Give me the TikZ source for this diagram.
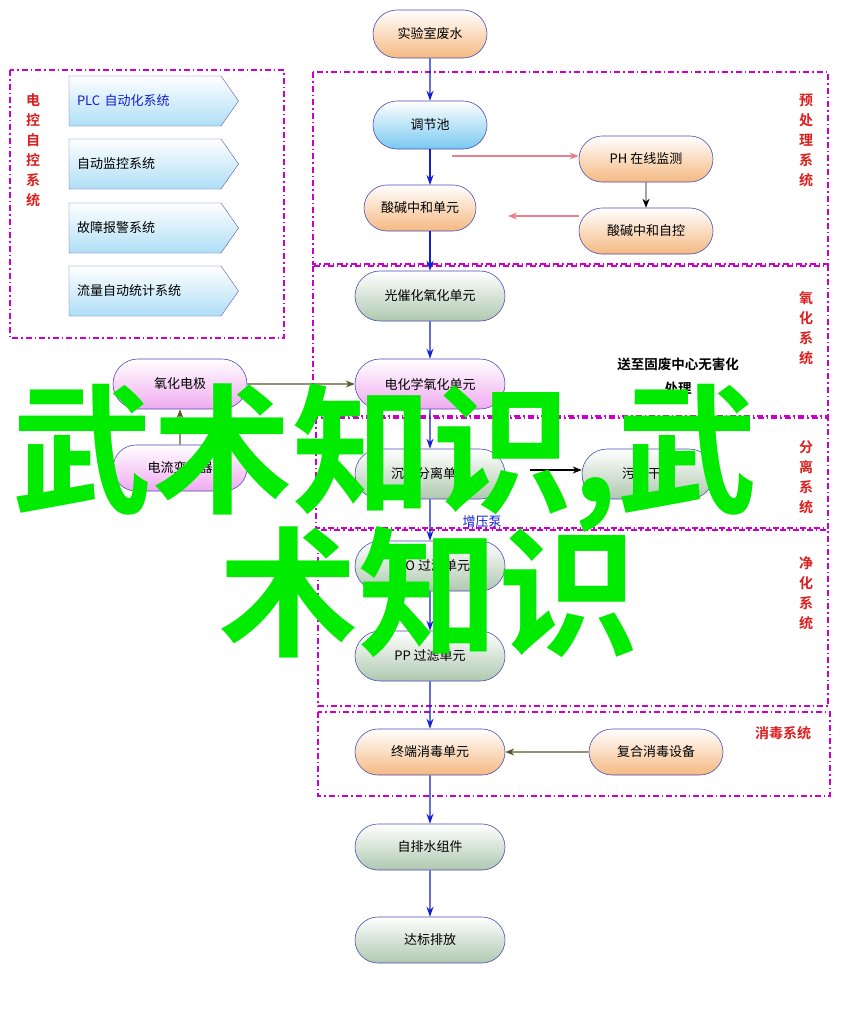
\documentclass[tikz,border=0pt]{standalone}
\usepackage{fontspec}
\setmainfont{Noto Sans CJK SC}
\newfontfamily\cjkb{Noto Sans CJK SC Bold}
\usetikzlibrary{arrows.meta,shapes.symbols,shapes.misc}
\definecolor{magd}{RGB}{204,0,204}
\definecolor{redl}{RGB}{220,30,30}
\definecolor{olv}{RGB}{90,90,40}
\definecolor{bluea}{RGB}{20,30,210}
\definecolor{org}{RGB}{245,185,130}
\definecolor{cyanf}{RGB}{120,200,240}
\definecolor{pinkf}{RGB}{240,170,240}
\definecolor{grnf}{RGB}{175,200,175}
\definecolor{pinka}{RGB}{230,130,140}
\definecolor{wm}{RGB}{0,235,0}
\tikzset{
 x=1pt,y=-1pt,
 pill/.style={rounded rectangle,draw=blue!40!gray,line width=0.6pt,font=\fontsize{13}{15}\selectfont,minimum height=48pt,inner xsep=4pt},
 po/.style={pill,top color=white,bottom color=org},
 pc/.style={pill,top color=white,bottom color=cyanf},
 pp/.style={pill,top color=white,bottom color=pinkf},
 pg/.style={pill,top color=white,bottom color=grnf},
 zone/.style={draw=magd,line width=1.2pt,dash pattern=on 6pt off 3pt on 1.5pt off 3pt},
 sysl/.style={text=redl,font=\cjkb\fontsize{14}{20}\selectfont,align=center,text width=16pt},
 flow/.style={-{Stealth[length=10pt,width=7pt]},bluea,line width=1.3pt},
 side/.style={-{Stealth[length=9pt,width=7pt]},line width=1.1pt},
 chev/.style={signal,signal to=east,signal pointer angle=110,draw=blue!30!gray,top color=white,bottom color=cyanf!60,font=\fontsize{13}{15}\selectfont,minimum height=50pt,text width=136pt,inner xsep=8pt,align=left}
}
\begin{document}
\begin{tikzpicture}
\useasboundingbox (0,0) rectangle (841,1017);
\fill[white] (0,0) rectangle (841,1017);
% zones
\draw[zone] (10,70) rectangle (284,338);
\draw[zone] (313,72) rectangle (828,264);
\draw[zone] (313,266) rectangle (828,416);
\draw[zone] (316,418) rectangle (828,528);
\draw[zone] (318,530) rectangle (828,706);
\draw[zone] (318,712) rectangle (830,796);
\node[sysl] (lbl1) at (806,140) {预\\处\\理\\系\\统};
\node[sysl] (lbl2) at (806,328) {氧\\化\\系\\统};
\node[sysl] (lbl3) at (806,477) {分\\离\\系\\统};
\node[sysl] (lbl4) at (806,593) {净\\化\\系\\统};
\node[text=redl,font=\cjkb\fontsize{14}{16}\selectfont] (lbl5) at (783,733) {消毒系统};
\node[sysl] (lbl0) at (33,150) {电\\控\\自\\控\\系\\统};
% chevrons
\node[chev,text=bluea] (c1) at (145,101) {PLC 自动化系统};
\node[chev] (c2) at (145,164) {自动监控系统};
\node[chev] (c3) at (145,228) {故障报警系统};
\node[chev] (c4) at (145,291) {流量自动统计系统};
% main nodes
\node[po,minimum width=122pt] (n1) at (430,34) {实验室废水};
\node[pc,minimum width=122pt] (n2) at (430,125) {调节池};
\node[po,minimum width=120pt,minimum height=46pt] (n3) at (420,208) {酸碱中和单元};
\node[po,minimum width=142pt,minimum height=46pt] (ph) at (646,159) {PH 在线监测};
\node[po,minimum width=142pt,minimum height=46pt] (ac) at (646,231) {酸碱中和自控};
\node[pg,minimum width=158pt,minimum height=50pt] (n4) at (430,296) {光催化氧化单元};
\node[pp,minimum width=158pt,minimum height=50pt] (n5) at (430,384) {电化学氧化单元};
\node[pp,minimum width=142pt,minimum height=50pt] (el) at (180,384) {氧化电极};
\node[pp,minimum width=142pt,minimum height=46pt] (tr) at (180,468) {电流变压器};
\node[pg,minimum width=158pt,minimum height=50pt] (n6) at (430,474) {沉淀分离单元};
\node[pg,minimum width=140pt,minimum height=50pt] (sl) at (648,474) {污泥干化};
\node[pg,minimum width=158pt,minimum height=50pt] (n7) at (430,566) {CTO 过滤单元};
\node[pg,minimum width=158pt,minimum height=50pt] (n8) at (430,656) {PP 过滤单元};
\node[po,minimum width=158pt,minimum height=46pt] (n9) at (430,752) {终端消毒单元};
\node[po,minimum width=142pt,minimum height=46pt] (ds) at (656,752) {复合消毒设备};
\node[pg,minimum width=158pt,minimum height=46pt] (n10) at (430,847) {自排水组件};
\node[pg,minimum width=158pt,minimum height=46pt] (n11) at (430,940) {达标排放};
\node[font=\cjkb\fontsize{13.5}{24}\selectfont,align=center] (waste) at (678,376) {送至固废中心无害化\\处理};
\node[text=bluea,font=\fontsize{13}{15}\selectfont] (pump) at (482,522) {增压泵};
% flow arrows
\coordinate (a1) at (430,185);
\coordinate (a2) at (430,231);
\draw[flow] (n1) -- (n2);
\draw[flow] (n2) -- (a1);
\draw[flow] (a2) -- (n4);
\draw[flow] (n4) -- (n5);
\draw[flow] (n5) -- (n6);
\draw[flow] (n6) -- (n7);
\draw[flow] (n7) -- (n8);
\draw[flow] (n8) -- (n9);
\draw[flow] (n9) -- (n10);
\draw[flow] (n10) -- (n11);
\coordinate (phs) at (452,156);
\draw[side,pinka] (phs) -- (ph.west|-phs);
\draw[side,black,line width=0.8pt] (ph) -- (ac);
\coordinate (acs) at (508,216);
\draw[side,pinka] (ac.west|-acs) -- (acs);
\draw[side,olv] (el) -- (n5);
\draw[side,olv] (tr) -- (el);
\coordinate (ss) at (530,470);
\draw[side,black] (ss) -- (sl.west|-ss);
\draw[side,olv] (ds) -- (n9);
% watermark
\node[text=wm,font=\cjkb\fontsize{140}{142}\selectfont,anchor=west,inner sep=0] (wm1) at (12,458) {武术知识,武};
\node[text=wm,font=\cjkb\fontsize{140}{142}\selectfont,anchor=west,inner sep=0] (wm2) at (218,592) {术知识};
\end{tikzpicture}
\end{document}
